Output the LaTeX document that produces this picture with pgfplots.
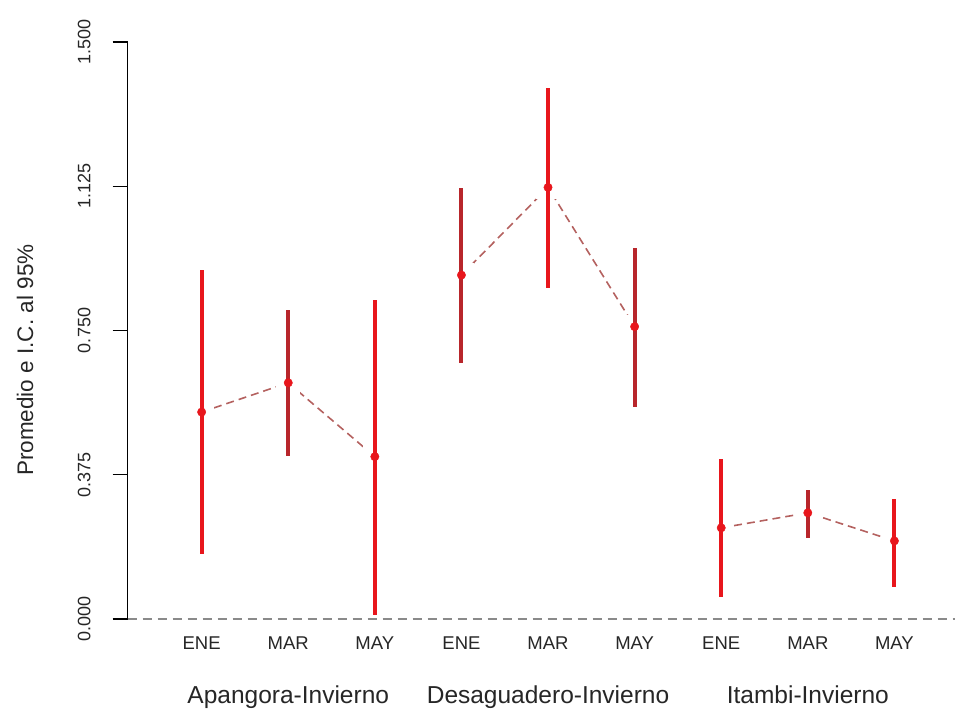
\documentclass[border=0pt]{standalone}
\usepackage{fontspec}
\setmainfont{Liberation Sans}
\usepackage{pgfplots}
\pgfplotsset{compat=1.18}

\definecolor{barred}{HTML}{E8161C}
\definecolor{bardark}{HTML}{B8262B}
\definecolor{linkline}{HTML}{B4615F}
\definecolor{zeroline}{HTML}{8A8A8A}
\definecolor{txt}{HTML}{262626}

\begin{document}
\begin{tikzpicture}[x=1bp,y=1bp]
\begin{axis}[
  set layers,
  at={(127.7bp,92bp)}, anchor=south west,
  scale only axis, width=827.3bp, height=577bp,
  xmin=0.146, xmax=9.70, ymin=0, ymax=1.5,
  clip=false,
  axis lines*=left,
  x axis line style={draw=none},
  y axis line style={line width=1.3bp, black},
  xtick={1,...,9},
  xticklabels={ENE,MAR,MAY,ENE,MAR,MAY,ENE,MAR,MAY},
  xtick style={draw=none},
  major tick length=15bp,
  tick align=outside,
  ytick={0,0.375,0.75,1.125,1.5},
  yticklabel={\pgfmathprintnumber[fixed, fixed zerofill, precision=3,
    assume math mode=true]{\tick}},
  ytick style={line width=1.3bp, black},
  yticklabel shift=22bp,
  xticklabel shift=16bp,
  yticklabel style={rotate=90, anchor=south, inner sep=0pt,
    font=\fontsize{18bp}{18bp}\selectfont, text=txt},
  xticklabel style={anchor=base, inner sep=0pt,
    font=\fontsize{18.5bp}{18.5bp}\selectfont, text=txt},
]
% reference line at zero
\addplot[on layer=axis background, zeroline, line width=1.6bp,
  dash pattern=on 9bp off 6bp]
  coordinates {(0.146,0) (9.70,0)};

% dashed links between monthly means within each site
\pgfplotsset{link/.style={on layer=axis background, linkline, line width=1.6bp,
  dash pattern=on 8bp off 5bp}}
\addplot[link] coordinates {(1,0.538) (2,0.614) (3,0.422)};
\addplot[link] coordinates {(4,0.894) (5,1.122) (6,0.760)};
\addplot[link] coordinates {(7,0.237) (8,0.276) (9,0.203)};

% blank space around each mean, so the links stop short of the points
\addplot[only marks, mark=none,
  error bars/.cd, x dir=both, x explicit, error mark=none,
  error bar style={line width=24bp, white}]
  coordinates {(1,0.538) +- (0.14,0) (2,0.614) +- (0.14,0) (3,0.422) +- (0.14,0)
               (4,0.894) +- (0.14,0) (5,1.122) +- (0.14,0) (6,0.760) +- (0.14,0)
               (7,0.237) +- (0.14,0) (8,0.276) +- (0.14,0) (9,0.203) +- (0.14,0)};

% 95% confidence intervals
\pgfplotsset{ci/.style={on layer=axis foreground, mark layer=axis foreground,
  only marks, mark=*, mark size=4.2bp, mark options={fill=barred, draw=barred},
  error bars/.cd, y dir=both, y explicit, error mark=none,
  error bar style={line width=4bp, #1}}}
\addplot[ci=barred]
  coordinates {
    (1,0.538) += (0,0.369) -= (0,0.369)
    (3,0.422) += (0,0.407) -= (0,0.412)
    (5,1.122) += (0,0.258) -= (0,0.262)
    (7,0.237) += (0,0.179) -= (0,0.179)
    (9,0.203) += (0,0.108) -= (0,0.119)
  };
\addplot[ci=bardark]
  coordinates {
    (2,0.614) += (0,0.189) -= (0,0.190)
    (4,0.894) += (0,0.226) -= (0,0.229)
    (6,0.760) += (0,0.204) -= (0,0.208)
    (8,0.276) += (0,0.059) -= (0,0.065)
  };

% site names under each group of months
\node[anchor=base, font=\fontsize{24.5bp}{24.5bp}\selectfont, text=txt]
  at ([yshift=-85bp]axis cs:2,0) {Apangora-Invierno};
\node[anchor=base, font=\fontsize{24.5bp}{24.5bp}\selectfont, text=txt]
  at ([yshift=-85bp]axis cs:5,0) {Desaguadero-Invierno};
\node[anchor=base, font=\fontsize{24.5bp}{24.5bp}\selectfont, text=txt]
  at ([yshift=-85bp]axis cs:8,0) {Itambi-Invierno};

% y-axis title
\node[rotate=90, anchor=base, font=\fontsize{22.5bp}{22.5bp}\selectfont, text=txt]
  at ([xshift=-94.7bp]axis cs:0.146,0.673) {Promedio e I.C. al 95\%};
\end{axis}
\pgfresetboundingbox
\useasboundingbox (0,0) rectangle (955,711);
\end{tikzpicture}
\end{document}
